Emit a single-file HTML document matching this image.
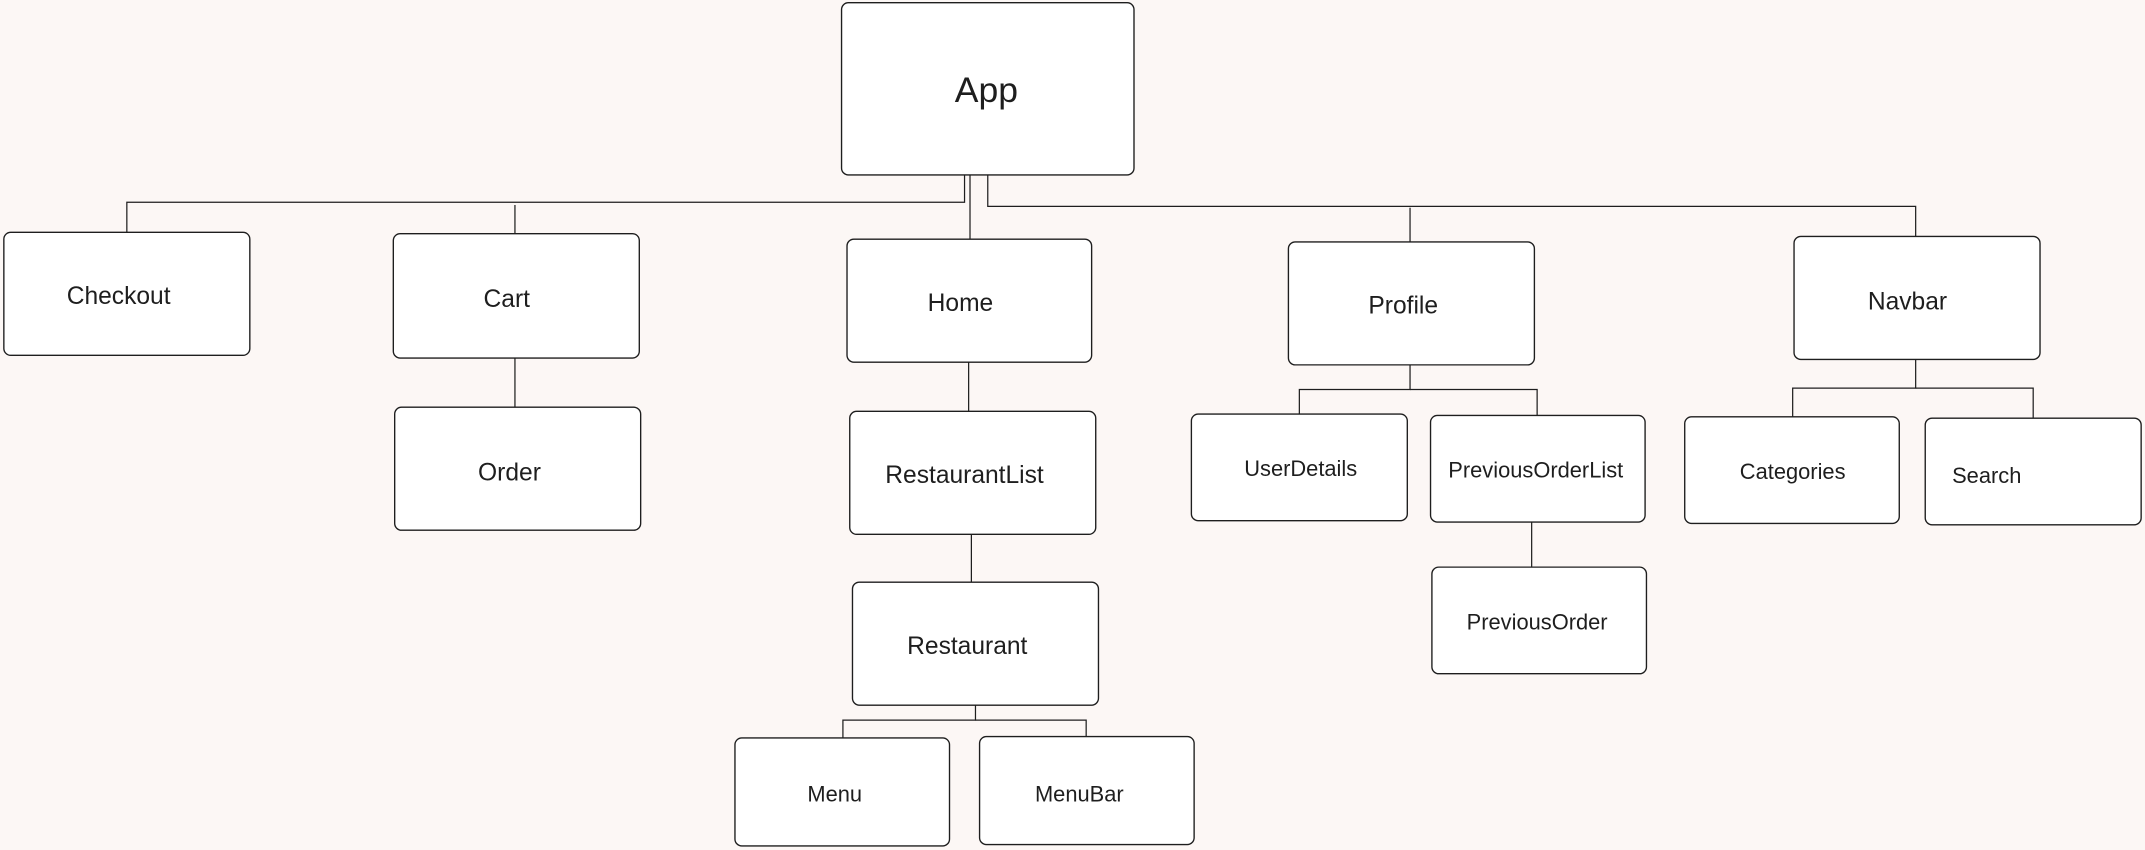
<!DOCTYPE html>
<html><head><meta charset="utf-8"><style>
html,body{margin:0;padding:0;background:#fcf7f5;}
svg{display:block;}
text{font-family:"Liberation Sans",sans-serif;fill:#1e1e1e;text-anchor:middle;dominant-baseline:central;}
rect{fill:#fff;stroke:#1e1e1e;stroke-width:1;}
path{fill:none;stroke:#1e1e1e;stroke-width:0.9;}
</style></head><body>
<svg width="2145" height="850" viewBox="0 0 1568 622" xmlns="http://www.w3.org/2000/svg">
<rect x="0" y="0" width="1568" height="622" style="fill:#fcf7f5;stroke:none"/>
<!-- connectors -->
<path d="M705 128 V148 H92 V170"/>
<path d="M376 150 V171"/>
<path d="M709 128 V175"/>
<path d="M722 128 V151 H1401 V173"/>
<path d="M1031 152 V177"/>
<path d="M376 262 V298"/>
<path d="M708 265 V301"/>
<path d="M710 391 V428"/>
<path d="M713 516 V527 H616 V540"/>
<path d="M713 527 H794 V539"/>
<path d="M1031 267 V285 H950 V303"/>
<path d="M1031 285 H1124 V304"/>
<path d="M1401 263 V284 H1311 V305"/>
<path d="M1401 284 H1487 V306"/>
<path d="M1120 382 V415"/>
<!-- boxes -->
<rect x="615" y="2" width="214" height="126" rx="5"/>
<text x="721" y="66" font-size="26">App</text>
<rect x="2" y="170" width="180" height="90" rx="5"/>
<text x="86" y="217" font-size="18">Checkout</text>
<rect x="287" y="171" width="180" height="91" rx="5"/>
<text x="370" y="219" font-size="18">Cart</text>
<rect x="619" y="175" width="179" height="90" rx="5"/>
<text x="702" y="222" font-size="18">Home</text>
<rect x="942" y="177" width="180" height="90" rx="5"/>
<text x="1026" y="224" font-size="18">Profile</text>
<rect x="1312" y="173" width="180" height="90" rx="5"/>
<text x="1395" y="221" font-size="18">Navbar</text>
<rect x="288" y="298" width="180" height="90" rx="5"/>
<text x="372" y="346" font-size="18">Order</text>
<rect x="621" y="301" width="180" height="90" rx="5"/>
<text x="705" y="348" font-size="18">RestaurantList</text>
<rect x="623" y="426" width="180" height="90" rx="5"/>
<text x="707" y="473" font-size="18">Restaurant</text>
<rect x="871" y="303" width="158" height="78" rx="5"/>
<text x="951" y="343" font-size="16">UserDetails</text>
<rect x="1046" y="304" width="157" height="78" rx="5"/>
<text x="1123" y="344" font-size="16">PreviousOrderList</text>
<rect x="1047" y="415" width="157" height="78" rx="5"/>
<text x="1124" y="455" font-size="16">PreviousOrder</text>
<rect x="1232" y="305" width="157" height="78" rx="5"/>
<text x="1311" y="345" font-size="16">Categories</text>
<rect x="1408" y="306" width="158" height="78" rx="5"/>
<text x="1453" y="348" font-size="16">Search</text>
<rect x="537" y="540" width="157" height="79" rx="5"/>
<text x="610" y="581" font-size="16">Menu</text>
<rect x="716" y="539" width="157" height="79" rx="5"/>
<text x="789" y="581" font-size="16">MenuBar</text>
</svg>
</body></html>
